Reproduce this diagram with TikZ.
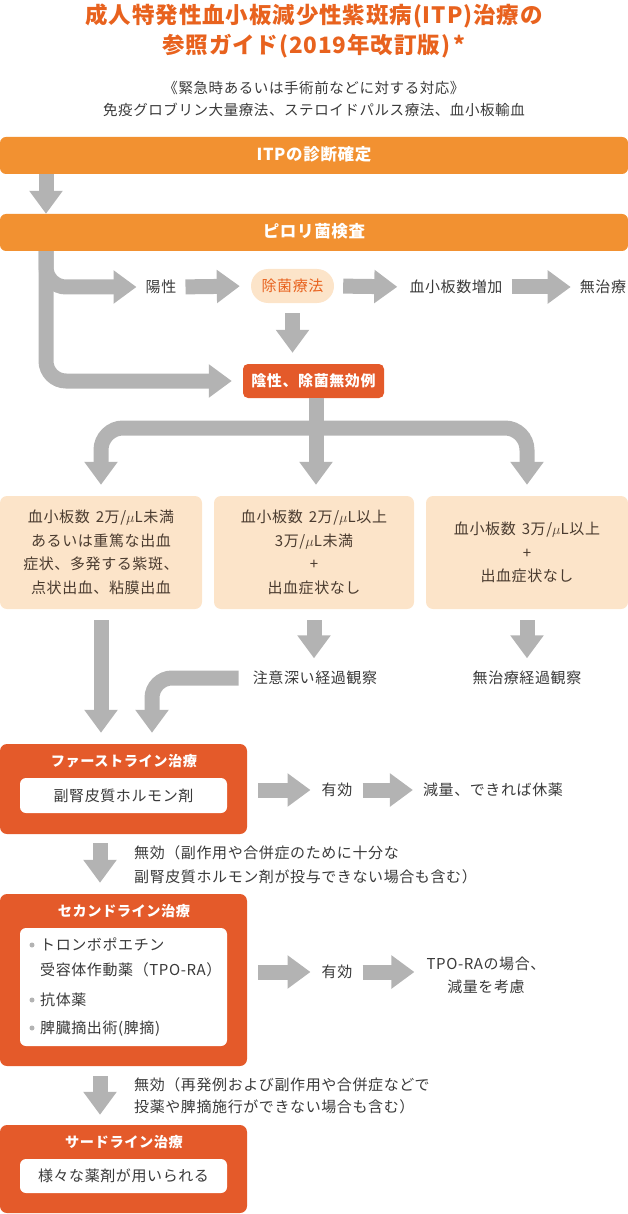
\documentclass[tikz,border=0pt]{standalone}
\usepackage{fontspec}
\setmainfont{Noto Sans CJK JP}[LetterSpace=4]
\usetikzlibrary{arrows.meta}
\definecolor{titlered}{HTML}{E8621E}
\definecolor{barorange}{HTML}{F29131}
\definecolor{boxred}{HTML}{E45A2A}
\definecolor{peach}{HTML}{FCE4C9}
\definecolor{arrowgray}{HTML}{B3B3B3}
\definecolor{textgray}{HTML}{3A3A3A}
\definecolor{textbrown}{HTML}{4A3B2F}
\begin{document}
\begin{tikzpicture}[x=1pt,y=-1pt,
    every node/.style={font=\fontsize{15}{23.5}\selectfont,text=textgray,inner sep=0pt},
    lbl/.style={text height=13pt,text depth=2pt},
    bar/.style={lbl,fill=barorange,rounded corners=6pt,minimum width=628pt,minimum height=37pt,
      text=white,font=\fontsize{16.5}{18}\selectfont\bfseries},
    redbox/.style={fill=boxred,rounded corners=7pt,minimum width=247pt},
    redtitle/.style={lbl,text=white,font=\fontsize{14.2}{18}\selectfont\bfseries},
    whitebox/.style={fill=white,rounded corners=6pt,minimum width=207pt},
    peachbox/.style={fill=peach,rounded corners=7pt,minimum height=113pt,align=center,text=textbrown},
    garrow/.style={draw=arrowgray,line width=15pt,-{Triangle[width=32pt,length=23pt]}},
  ]
  \useasboundingbox (0,0) rectangle (628,1214);

  % title and note
  \node[align=center,text=titlered,font=\fontsize{22.5}{31}\selectfont\bfseries] (title) at (314,31)
    {成人特発性血小板減少性紫斑病(ITP)治療の\\参照ガイド(2019年改訂版)\,*};
  \node[align=center,font=\fontsize{14.5}{22}\selectfont] (note) at (314,99)
    {《緊急時あるいは手術前などに対する対応》\\免疫グロブリン大量療法、ステロイドパルス療法、血小板輸血};

  % bars
  \node[bar] (itp) at (314,155.5) {ITPの診断確定};
  \node[bar] (pylori) at (314,232.5) {ピロリ菌検査};

  % pylori row
  \node[lbl] (yousei) at (161,287) {陽性};
  \node[lbl,fill=peach,rounded corners=17pt,minimum width=83pt,minimum height=34pt,text=titlered] (jokin) at (292.5,286) {除菌療法};
  \node[lbl] (zouka) at (456,287) {血小板数増加};
  \node[lbl] (mutiryo) at (603,287) {無治療};
  \node[lbl,fill=boxred,rounded corners=5pt,minimum width=141pt,minimum height=34pt,text=white,
    font=\fontsize{15}{18}\selectfont\bfseries] (insei) at (313.5,381) {陰性、除菌無効例};

  % platelet boxes
  \node[peachbox,minimum width=202pt] (pbox1) at (101,552.5)
    {血小板数\hspace{0.4em}2万/$\mu$L未満\\あるいは重篤な出血\\症状、多発する紫斑、\\点状出血、粘膜出血};
  \node[peachbox,minimum width=200pt] (pbox2) at (314,552.5)
    {血小板数\hspace{0.4em}2万/$\mu$L以上\\3万/$\mu$L未満\\+\\出血症状なし};
  \node[peachbox,minimum width=202pt] (pbox3) at (527,552.5)
    {血小板数\hspace{0.4em}3万/$\mu$L以上\\+\\出血症状なし};
  \node[lbl] (chui) at (315,678) {注意深い経過観察};
  \node[lbl] (keika) at (527,678) {無治療経過観察};

  % first line
  \node[redbox,minimum height=90pt] (first) at (123.5,789) {};
  \node[redtitle] (firsttitle) at (124,761) {ファーストライン治療};
  \node[whitebox,lbl,minimum height=35pt] (firstdrug) at (123.5,795.5) {副腎皮質ホルモン剤};
  \node[lbl] (yuko1) at (337,790) {有効};
  \node[lbl] (kyuyaku) at (493,790) {減量、できれば休薬};
  \node[anchor=west,align=left,font=\fontsize{15}{24}\selectfont] (mukou1) at (134,865)
    {無効（副作用や合併症のために十分な\\副腎皮質ホルモン剤が投与できない場合も含む）};

  % second line
  \node[redbox,minimum height=172pt] (second) at (123.5,980) {};
  \node[redtitle] (secondtitle) at (124,911) {セカンドライン治療};
  \node[whitebox,minimum height=118pt] (seconddrug) at (123.5,987) {};
  \node[anchor=west,align=left,font=\fontsize{15}{25}\selectfont] (tpora) at (40,957.5) {トロンボポエチン\\受容体作動薬（TPO-RA）};
  \node[lbl,anchor=west] (kotai) at (40,1000) {抗体薬};
  \node[lbl,anchor=west] (hiteki) at (40,1028) {脾臓摘出術(脾摘)};
  \foreach \y in {945,1000,1028}
    \fill[arrowgray] (32,\y) circle (2.5pt);
  \node[lbl] (yuko2) at (337,972) {有効};
  \node[align=center,font=\fontsize{15}{23}\selectfont] (tpocase) at (486,975.5) {TPO-RAの場合、\\減量を考慮};
  \node[anchor=west,align=left,font=\fontsize{15}{22}\selectfont] (mukou2) at (134,1096)
    {無効（再発例および副作用や合併症などで\\投薬や脾摘施行ができない場合も含む）};

  % third line
  \node[redbox,minimum height=88pt] (third) at (123.5,1169) {};
  \node[redtitle] (thirdtitle) at (124,1142) {サードライン治療};
  \node[whitebox,lbl,minimum height=34pt] (thirddrug) at (123.5,1176) {様々な薬剤が用いられる};

  % connectors
  \coordinate (lane) at (46,0);
  \coordinate (split) at (316,428);
  \coordinate (bend) at (152,0);
  \coordinate (drop) at (100,0);
  \draw[garrow] (itp.south -| lane) -- (pylori.north -| lane);
  \draw[garrow,rounded corners=20pt,shorten >=9pt] (pylori.south -| lane) -- (lane |- yousei) -- (yousei.west);
  \draw[garrow,rounded corners=20pt,shorten >=11pt] (pylori.south -| lane) -- (lane |- insei) -- (insei.west);
  \draw[garrow,shorten <=9pt,shorten >=11pt] (yousei.east) -- (jokin.west);
  \draw[garrow,shorten <=9pt,shorten >=12pt] (jokin.east) -- (zouka.west);
  \draw[garrow,shorten <=9pt,shorten >=9pt] (zouka.east) -- (mutiryo.west);
  \draw[garrow,shorten <=10pt,shorten >=11pt] (jokin.south) -- (insei.north -| jokin.south);
  \draw[garrow,shorten >=11pt] (insei.south -| split) -- (pbox2.north -| split);
  \draw[garrow,rounded corners=22pt,shorten >=11pt] (split) -- (split -| pbox1.north) -- (pbox1.north);
  \draw[garrow,rounded corners=22pt,shorten >=11pt] (split) -- (split -| pbox3.north) -- (pbox3.north);
  \draw[garrow,shorten <=11pt,shorten >=11pt] (pbox1.south) -- (pbox1.south |- first.north);
  \draw[garrow,shorten <=11pt,shorten >=12pt] (pbox2.south) -- (chui.north -| pbox2.south);
  \draw[garrow,shorten <=11pt,shorten >=12pt] (pbox3.south) -- (keika.north -| pbox3.south);
  \draw[garrow,rounded corners=20pt,shorten <=14pt,shorten >=11pt] (chui.west) -- (chui.west -| bend) -- (bend |- first.north);
  \draw[garrow,shorten <=11pt,shorten >=11pt] (first.east |- yuko1) -- (yuko1.west);
  \draw[garrow,shorten <=10pt,shorten >=10pt] (yuko1.east) -- (kyuyaku.west);
  \draw[garrow,shorten <=9pt,shorten >=11pt] (first.south -| drop) -- (second.north -| drop);
  \draw[garrow,shorten <=11pt,shorten >=11pt] (second.east |- yuko2) -- (yuko2.west);
  \draw[garrow,shorten <=10pt,shorten >=12pt] (yuko2.east) -- (tpocase.west |- yuko2);
  \draw[garrow,shorten <=10pt,shorten >=10pt] (second.south -| drop) -- (third.north -| drop);
\end{tikzpicture}
\end{document}
